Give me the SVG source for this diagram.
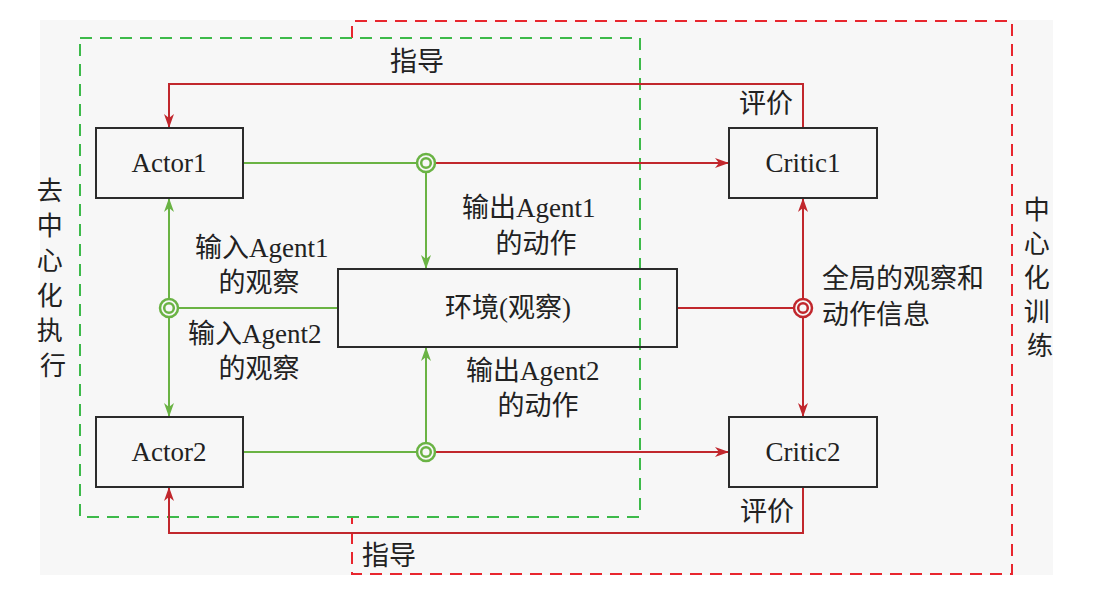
<svg xmlns="http://www.w3.org/2000/svg" width="1110" height="590" viewBox="0 0 1110 590">
<style>
  text { font-family: "Liberation Serif", "Noto Sans CJK SC", serif; font-size: 27px; fill: #222; }
  .box { fill: none; stroke: #2b2b2b; stroke-width: 2; }
  .g { fill: none; stroke: #6ab344; stroke-width: 2; }
  .r { fill: none; stroke: #c1272d; stroke-width: 2; }
  .gd { fill: none; stroke: #3dba4a; stroke-width: 2; stroke-dasharray: 12 8; }
  .rd { fill: none; stroke: #e8262e; stroke-width: 2; stroke-dasharray: 12 8; }
  .mid { text-anchor: middle; }
  .v { font-size: 26px; }
</style>
<defs>
  <marker id="ag" viewBox="0 0 14 10" refX="13" refY="5" markerWidth="14" markerHeight="10" markerUnits="userSpaceOnUse" orient="auto">
    <path d="M0,0 L14,5 L0,10 L4,5 z" fill="#6ab344"/>
  </marker>
  <marker id="ar" viewBox="0 0 14 10" refX="13" refY="5" markerWidth="14" markerHeight="10" markerUnits="userSpaceOnUse" orient="auto">
    <path d="M0,0 L14,5 L0,10 L4,5 z" fill="#c1272d"/>
  </marker>
</defs>
<rect x="0" y="0" width="1110" height="590" fill="#ffffff"/>
<rect x="40" y="20" width="1013" height="555" fill="#f7f7f7"/>

<g id="regions">
  <path class="rd" d="M352,38 V21 H1012 V574 H352 V518"/>
  <rect class="gd" x="80" y="38" width="560" height="479"/>
  <text class="v">
    <tspan x="53" y="200" class="mid">去</tspan>
    <tspan x="53" y="235" class="mid">中</tspan>
    <tspan x="53" y="270" class="mid">心</tspan>
    <tspan x="53" y="305" class="mid">化</tspan>
    <tspan x="53" y="340" class="mid">执</tspan>
    <tspan x="53" y="375" class="mid">行</tspan>
  </text>
  <text class="v">
    <tspan x="1040" y="219" class="mid">中</tspan>
    <tspan x="1040" y="253" class="mid">心</tspan>
    <tspan x="1040" y="287" class="mid">化</tspan>
    <tspan x="1040" y="321" class="mid">训</tspan>
    <tspan x="1040" y="355" class="mid">练</tspan>
  </text>
</g>

<g id="connectors">
  <path class="r" d="M803,128 V84 H169 V127" marker-end="url(#ar)"/>
  <path class="r" d="M803,487 V533 H169 V488" marker-end="url(#ar)"/>
  <path class="g" d="M243,163 H416"/>
  <path class="r" d="M436,163 H728" marker-end="url(#ar)"/>
  <path class="g" d="M426,173 V268" marker-end="url(#ag)"/>
  <path class="g" d="M243,452 H416"/>
  <path class="r" d="M436,452 H728" marker-end="url(#ar)"/>
  <path class="g" d="M426,442 V348" marker-end="url(#ag)"/>
  <path class="g" d="M338,308 H179"/>
  <path class="g" d="M169,298 V199" marker-end="url(#ag)"/>
  <path class="g" d="M169,318 V416" marker-end="url(#ag)"/>
  <path class="r" d="M677,308 H793"/>
  <path class="r" d="M803,298 V199" marker-end="url(#ar)"/>
  <path class="r" d="M803,318 V416" marker-end="url(#ar)"/>
  <g class="g" style="stroke-width:2.5">
    <circle cx="426" cy="163" r="9"/><circle cx="426" cy="163" r="4.8"/>
    <circle cx="426" cy="452" r="9"/><circle cx="426" cy="452" r="4.8"/>
    <circle cx="169" cy="308" r="9"/><circle cx="169" cy="308" r="4.8"/>
  </g>
  <g class="r" style="stroke-width:2.5">
    <circle cx="803" cy="308" r="9"/><circle cx="803" cy="308" r="4.8"/>
  </g>
  <text x="390" y="71">指导</text>
  <text x="362" y="565">指导</text>
  <text x="739" y="113">评价</text>
  <text x="740" y="521">评价</text>
  <text x="462" y="217">输出Agent1</text>
  <text x="536" y="253" class="mid">的动作</text>
  <text x="195" y="257">输入Agent1</text>
  <text x="259" y="292" class="mid">的观察</text>
  <text x="188" y="343">输入Agent2</text>
  <text x="259" y="378" class="mid">的观察</text>
  <text x="466" y="380">输出Agent2</text>
  <text x="538" y="415" class="mid">的动作</text>
  <text x="822" y="288">全局的观察和</text>
  <text x="822" y="324">动作信息</text>
</g>

<g id="actor1"><rect class="box" x="96" y="128" width="147" height="70"/><text x="169" y="172" class="mid">Actor1</text></g>
<g id="actor2"><rect class="box" x="96" y="417" width="147" height="70"/><text x="169" y="461" class="mid">Actor2</text></g>
<g id="critic1"><rect class="box" x="729" y="128" width="148" height="70"/><text x="803" y="172" class="mid">Critic1</text></g>
<g id="critic2"><rect class="box" x="729" y="417" width="148" height="70"/><text x="803" y="461" class="mid">Critic2</text></g>
<g id="env"><rect class="box" x="338" y="269" width="339" height="78"/><text x="508" y="317" class="mid">环境(观察)</text></g>
</svg>
